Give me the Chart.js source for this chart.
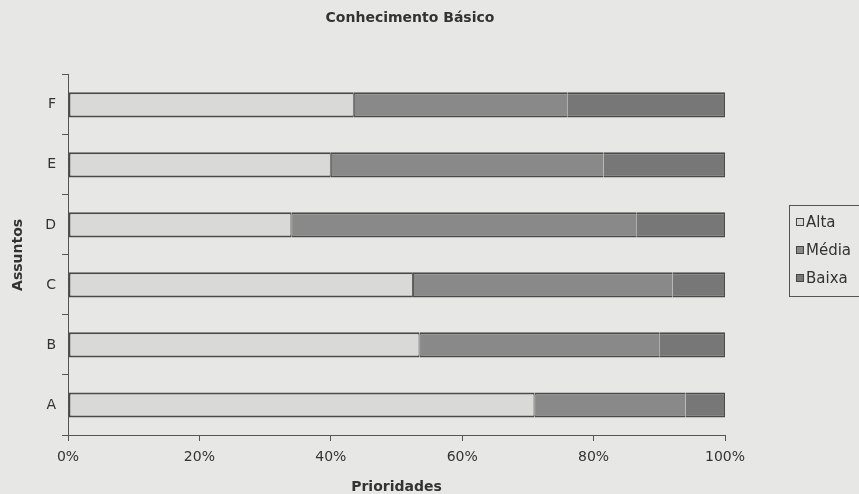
<!DOCTYPE html>
<html>
<head>
<meta charset="utf-8">
<script src="https://cdn.jsdelivr.net/npm/chart.js@4"></script>
<style>
  html, body { margin:0; padding:0; background:#e7e7e5; }
  #wrap { width:859px; height:494px; position:relative; }
</style>
</head>
<body>
<div id="wrap"><canvas id="c" width="859" height="494"></canvas></div>
<script>
const categories = ['A', 'B', 'C', 'D', 'E', 'F'];
const alta  = [71, 53.5, 52.5, 34, 40, 43.5];
const media = [23, 36.5, 39.5, 52.5, 41.5, 32.5];
const baixa = [6, 10, 8, 13.5, 18.5, 24];
const xTicks = [0, 20, 40, 60, 80, 100];
const seriesNames = ['Alta', 'Média', 'Baixa'];

const FONT = "'DejaVu Sans', Arial, sans-serif";
const colors = ['#d9d9d7', '#898989', '#777777'];
const borders = [
  { top: 2, bottom: 2, left: 2, right: 1 },
  { top: 2, bottom: 2, left: 1, right: 0 },
  { top: 2, bottom: 2, left: 0, right: 1 }
];

const legendPlugin = {
  id: 'boxLegend',
  afterDraw(chart) {
    const ctx = chart.ctx;
    ctx.save();
    const x0 = 789, y0 = 205, w = 75, h = 91;
    ctx.strokeStyle = '#555';
    ctx.lineWidth = 1;
    ctx.strokeRect(x0 + 0.5, y0 + 0.5, w, h);
    ctx.font = '15px ' + FONT;
    ctx.textBaseline = 'middle';
    chart.data.datasets.forEach((ds, i) => {
      const cy = 222 + i * 28;
      ctx.fillStyle = ds.backgroundColor;
      ctx.fillRect(796, cy - 4, 8, 8);
      ctx.strokeStyle = '#444';
      ctx.strokeRect(796.5, cy - 3.5, 7, 7);
      ctx.fillStyle = '#333';
      ctx.fillText(ds.label, 806, cy + 1);
    });
    ctx.restore();
  }
};

new Chart(document.getElementById('c'), {
  type: 'bar',
  data: {
    labels: categories,
    datasets: [
      { label: seriesNames[0], data: alta,  backgroundColor: colors[0], borderWidth: borders[0] },
      { label: seriesNames[1], data: media, backgroundColor: colors[1], borderWidth: borders[1] },
      { label: seriesNames[2], data: baixa, backgroundColor: colors[2], borderWidth: borders[2] }
    ].map(d => Object.assign(d, {
      borderColor: '#4a4a4a', borderSkipped: false,
      barPercentage: 0.42, categoryPercentage: 1.0
    }))
  },
  options: {
    indexAxis: 'y',
    responsive: false,
    animation: false,
    devicePixelRatio: 1,
    layout: { padding: { left: 10, right: 49, top: 0, bottom: 0 } },
    plugins: {
      legend: { display: false },
      tooltip: { enabled: false },
      title: {
        display: true,
        text: 'Conhecimento Básico',
        color: '#333',
        font: { family: FONT, size: 14, weight: 'bold' },
        padding: { top: 10, bottom: 48 }
      }
    },
    scales: {
      x: {
        stacked: true,
        min: 0, max: 100,
        afterBuildTicks(scale) { scale.ticks = xTicks.map(v => ({ value: v })); },
        ticks: {
          color: '#333',
          font: { family: FONT, size: 14 },
          padding: 8,
          callback: v => v + '%'
        },
        grid: { drawOnChartArea: false, drawTicks: true, tickLength: 6, color: '#555' },
        border: { color: '#555', width: 1 },
        title: {
          display: true, text: 'Prioridades', color: '#333',
          font: { family: FONT, size: 14, weight: 'bold', lineHeight: 1.0 },
          padding: { top: 14, bottom: 0 }
        },
        afterFit(scale) { scale.height = 59; }
      },
      y: {
        stacked: true,
        reverse: true,
        ticks: {
          color: '#333',
          font: { family: FONT, size: 14 },
          padding: 6
        },
        grid: { drawOnChartArea: false, drawTicks: true, tickLength: 6, color: '#555', offset: true },
        border: { color: '#555', width: 1 },
        title: {
          display: true, text: 'Assuntos', color: '#333',
          font: { family: FONT, size: 14, weight: 'bold', lineHeight: 1.2 },
          padding: { top: 0, bottom: 14 }
        },
        afterFit(scale) { scale.width = 58; }
      },
      spacer: {
        type: 'linear',
        position: 'right',
        display: true,
        ticks: { display: false },
        grid: { display: false },
        border: { display: false },
        afterFit(scale) { scale.width = 85; }
      }
    }
  },
  plugins: [legendPlugin]
});
</script>
</body>
</html>
